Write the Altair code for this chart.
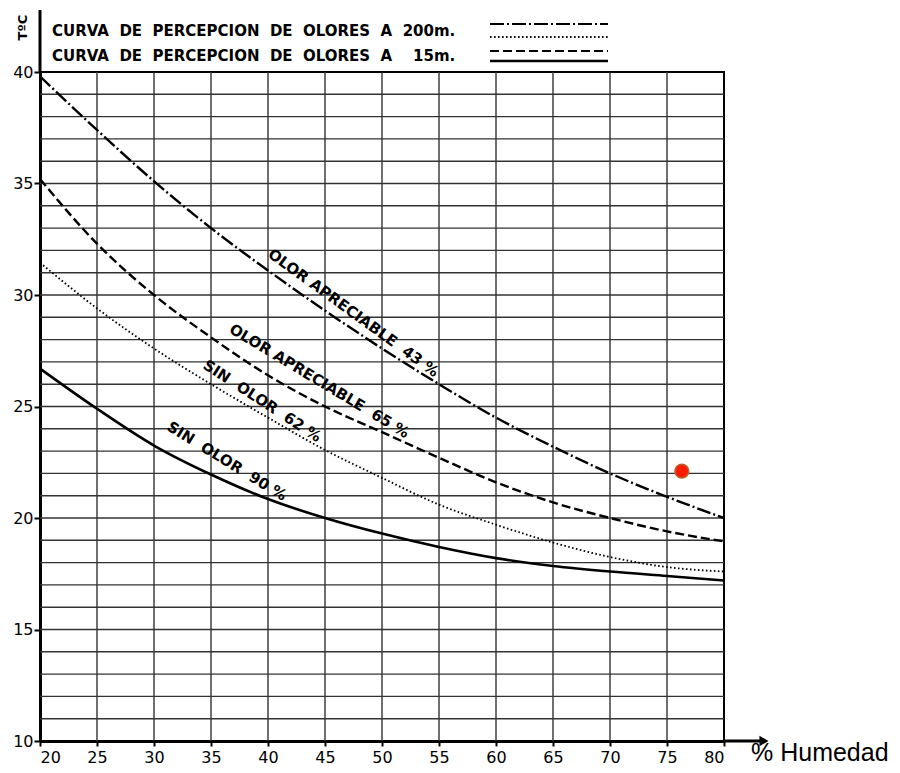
import altair as alt
import pandas as pd

# ---- data ----
humedad = [20, 25, 30, 35, 40, 45, 50, 55, 60, 65, 70, 75, 80]
t_olor_aprec_43 = [39.8, 37.4, 35.1, 33.0, 31.1, 29.3, 27.6, 26.0, 24.5, 23.2, 22.0, 20.95, 20.0]
t_olor_aprec_65 = [35.2, 32.3, 30.0, 28.1, 26.4, 25.0, 23.85, 22.7, 21.6, 20.7, 20.0, 19.4, 18.95]
t_sin_olor_62 = [31.45, 29.4, 27.6, 26.0, 24.5, 23.05, 21.8, 20.6, 19.7, 18.9, 18.25, 17.8, 17.6]
t_sin_olor_90 = [26.7, 24.9, 23.25, 21.95, 20.85, 20.0, 19.3, 18.7, 18.2, 17.85, 17.6, 17.4, 17.2]

x_ticks = [20, 25, 30, 35, 40, 45, 50, 55, 60, 65, 70, 75, 80]
y_ticks = [10, 15, 20, 25, 30, 35, 40]
x_grid = [25, 30, 35, 40, 45, 50, 55, 60, 65, 70, 75]
y_grid = list(range(11, 40))

punto_hum = [76.3]
punto_t = [22.1]

W, H = 684, 669
FONT = "DejaVu Sans"

xs = alt.Scale(domain=[20, 80], nice=False, zero=False)
ys = alt.Scale(domain=[10, 40], nice=False, zero=False)

X_AXIS = alt.Axis(values=x_ticks, title=None, grid=False, domainColor="black", domainWidth=3,
                  tickColor="black", tickSize=5, tickWidth=2, labelFont=FONT, labelFontSize=16,
                  labelColor="black", labelPadding=3)
Y_AXIS = alt.Axis(values=y_ticks, title=None, grid=False, domainColor="black", domainWidth=3,
                  tickColor="black", tickSize=6, tickWidth=2, labelFont=FONT, labelFontSize=16,
                  labelColor="black", labelPadding=1)


def xenc(field):
    return alt.X(field, scale=xs, axis=X_AXIS)


def yenc(field):
    return alt.Y(field, scale=ys, axis=Y_AXIS)


# grid
vgrid = alt.Chart(pd.DataFrame({"h": x_grid})).mark_rule(color="#333333", strokeWidth=1.4).encode(
    x=xenc("h:Q"))
hgrid = alt.Chart(pd.DataFrame({"t": y_grid})).mark_rule(color="#333333", strokeWidth=1.4).encode(
    y=yenc("t:Q"))


def curve(vals, dash, width):
    df = pd.DataFrame({"h": humedad, "t": vals})
    kw = dict(color="black", strokeWidth=width, interpolate="monotone")
    if dash:
        kw["strokeDash"] = dash
    return alt.Chart(df).mark_line(**kw).encode(x=xenc("h:Q"), y=yenc("t:Q"))


c43 = curve(t_olor_aprec_43, [14, 3, 2, 3], 2.4)
c65 = curve(t_olor_aprec_65, [9, 4], 2.4)
c62 = curve(t_sin_olor_62, [1.6, 2.4], 1.8)
c90 = curve(t_sin_olor_90, None, 2.6)

punto = alt.Chart(pd.DataFrame({"h": punto_hum, "t": punto_t})).mark_point(
    filled=True, shape="circle", size=190, color="#ff1a00", stroke="#b5652a", strokeWidth=1.5, opacity=1
).encode(x=xenc("h:Q"), y=yenc("t:Q"))


def curve_label(text, hx, ty, angle):
    return alt.Chart(pd.DataFrame({"s": [text]})).mark_text(
        font=FONT, fontSize=15, fontWeight="bold", angle=angle, align="center", baseline="middle",
        color="black"
    ).encode(x=alt.datum(hx, scale=xs), y=alt.datum(ty, scale=ys), text="s:N")


labels = [
    curve_label("OLOR\u00a0APRECIABLE\u00a0\u00a043\u00a0%", 47.5, 29.2, 36),
    curve_label("OLOR\u00a0APRECIABLE\u00a0\u00a065\u00a0%", 44.5, 26.15, 31),
    curve_label("SIN\u00a0\u00a0OLOR\u00a0\u00a062\u00a0%", 39.5, 25.25, 33),
    curve_label("SIN\u00a0\u00a0OLOR\u00a0\u00a090\u00a0%", 36.4, 22.55, 31.5),
]


def deco_text(text, x, y, size, align="left", angle=0, font=FONT, weight="bold", baseline="middle"):
    return alt.Chart(pd.DataFrame({"s": [text]})).mark_text(
        font=font, fontSize=size, fontWeight=weight, align=align, baseline=baseline, angle=angle,
        color="black"
    ).encode(x=alt.value(x), y=alt.value(y), text="s:N")


def deco_rule(x1, x2, y, dash, width):
    kw = dict(color="black", strokeWidth=width)
    if dash:
        kw["strokeDash"] = dash
    return alt.Chart(pd.DataFrame({"a": [0]})).mark_rule(**kw).encode(
        x=alt.value(x1), x2=alt.value(x2), y=alt.value(y))


leyenda_200 = "CURVA\u00a0 DE\u00a0 PERCEPCION\u00a0 DE\u00a0 OLORES\u00a0 A\u00a0 200m."
leyenda_15 = "CURVA\u00a0 DE\u00a0 PERCEPCION\u00a0 DE\u00a0 OLORES\u00a0 A\u00a0\u00a0\u00a0 15m."

deco = [
    deco_text(leyenda_200, 12, -41, 15),
    deco_text(leyenda_15, 12, -16, 15),
    deco_rule(450, 568, -48, [14, 3, 2, 3], 2.2),
    deco_rule(450, 568, -35, [1.6, 2.4], 1.8),
    deco_rule(450, 568, -21, [9, 4], 2.2),
    deco_rule(450, 568, -11, None, 2.4),
    deco_text("TºC", -17.5, -44.5, 13, align="center", angle=270),
    deco_text("% Humedad", 711, 689, 25, font="Liberation Sans", weight="normal", baseline="alphabetic"),
    # axis extensions
    alt.Chart(pd.DataFrame({"a": [0]})).mark_rule(color="black", strokeWidth=3).encode(
        x=alt.value(0), y=alt.value(-62), y2=alt.value(0)),
    alt.Chart(pd.DataFrame({"a": [0]})).mark_rule(color="black", strokeWidth=3).encode(
        x=alt.value(W), x2=alt.value(722), y=alt.value(H)),
    alt.Chart(pd.DataFrame({"a": [0]})).mark_point(shape="triangle-right", filled=True, size=110,
                                                    color="black", opacity=1).encode(
        x=alt.value(724), y=alt.value(H)),
]

chart = alt.layer(vgrid, hgrid, c43, c65, c62, c90, punto, *labels, *deco).properties(
    width=W, height=H,
    padding={"left": 32, "top": 64, "right": 168, "bottom": 24},
    autosize=alt.AutoSizeParams(type="none"),
).configure_view(stroke="black", strokeWidth=2)

chart.save("out.html", embed_options={"renderer": "svg", "actions": False})
